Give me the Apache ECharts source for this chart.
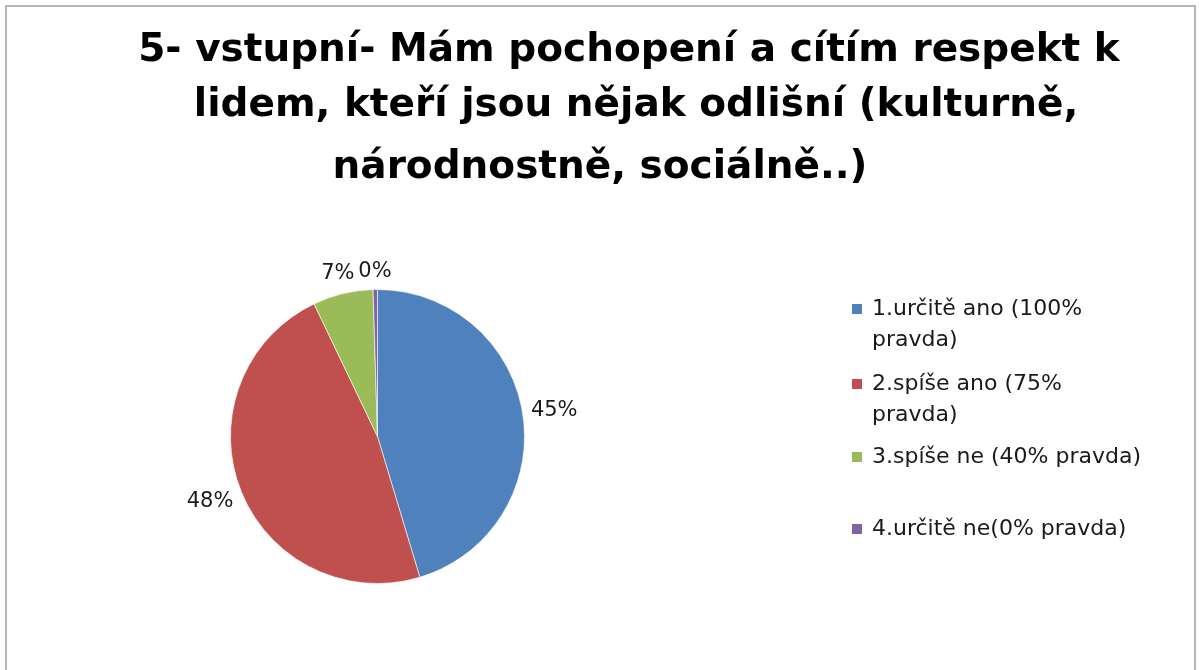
<!DOCTYPE html>
<html>
<head>
<meta charset="utf-8">
<script src="https://cdn.jsdelivr.net/npm/echarts@6/dist/echarts.min.js"></script>
<style>
html,body{margin:0;padding:0;background:#fff;}
#c{width:1199px;height:670px;}
</style>
</head>
<body>
<div id="c"></div>
<script>
const titleLines = [
  '5- vstupní- Mám pochopení a cítím respekt k',
  'lidem, kteří jsou nějak odlišní (kulturně,',
  'národnostně, sociálně..)'
];
const categories = [
  '1.určitě ano (100% pravda)',
  '2.spíše ano (75% pravda)',
  '3.spíše ne (40% pravda)',
  '4.určitě ne(0% pravda)'
];
const values = [45.35, 47.55, 6.62, 0.48];
const colors = ['#4F81BD', '#C0504D', '#9BBB59', '#8064A2'];

const total = values.reduce((a, b) => a + b, 0);
const FONT = 'DejaVu Sans';

const titleCenters = [629, 636, 600];
const titleTops = [31, 86, 148];
const titles = titleLines.map((t, i) => ({
  text: t,
  left: titleCenters[i],
  top: titleTops[i],
  textAlign: 'center',
  padding: 0,
  textStyle: {
    fontFamily: FONT,
    fontSize: 39,
    fontWeight: 'bold',
    color: '#000',
    lineHeight: 39
  }
}));

const LH = 31;
const iconCenters = [309, 384, 457, 529];
const legends = categories.map((name, i) => {
  const twoLine = i < 2;
  const boxHalf = twoLine ? LH * 1.5 : LH * 0.5;
  return {
    orient: 'vertical',
    left: 850,
    top: iconCenters[i] - boxHalf,
    padding: 0,
    data: [name],
    icon: 'rect',
    itemWidth: 12,
    itemHeight: 12,
    itemGap: 0,
    selectedMode: false,
    formatter: n => twoLine ? '\n' + n.replace(' pravda)', '\npravda)') : n,
    textStyle: {
      fontFamily: FONT,
      fontSize: 22,
      color: '#1a1a1a',
      lineHeight: LH,
      padding: [0, 0, 0, 4]
    }
  };
});

const chart = echarts.init(document.getElementById('c'), null, {renderer: 'canvas'});
chart.setOption({
  animation: false,
  backgroundColor: '#fff',
  color: colors,
  title: titles,
  graphic: [{
    type: 'rect',
    shape: {x: 6, y: 6, width: 1189, height: 720},
    style: {fill: 'none', stroke: '#a0a0a0', lineWidth: 1.5},
    silent: true
  }],
  legend: legends,
  series: [{
    type: 'pie',
    center: [377.5, 436.5],
    radius: 147,
    startAngle: 90,
    clockwise: true,
    avoidLabelOverlap: false,
    itemStyle: {borderColor: '#ffffff', borderWidth: 0.6},
    label: {
      show: true,
      position: 'outside',
      fontFamily: FONT,
      fontSize: 21,
      color: '#1a1a1a',
      formatter: p => Math.round(p.value / total * 100) + '%'
    },
    labelLine: {show: true, length: 10, length2: 0, lineStyle: {opacity: 0, width: 0}},
    labelLayout: function (params) {
      const pts = params.labelLinePoints;
      if (!pts) return {};
      const p0 = pts[0], p1 = pts[1];
      let dx = p1[0] - p0[0], dy = p1[1] - p0[1];
      const len = Math.sqrt(dx * dx + dy * dy) || 1;
      dx /= len; dy /= len;
      const w = params.labelRect.width, h = params.labelRect.height;
      const gap = 7;
      const d = gap + (w / 2) * Math.abs(dx) + (h / 2) * Math.abs(dy);
      return {
        x: p0[0] + dx * d,
        y: p0[1] + dy * d,
        align: 'center',
        verticalAlign: 'middle'
      };
    },
    emphasis: {disabled: true},
    data: categories.map((n, i) => ({name: n, value: values[i]}))
  }]
});
</script>
</body>
</html>
